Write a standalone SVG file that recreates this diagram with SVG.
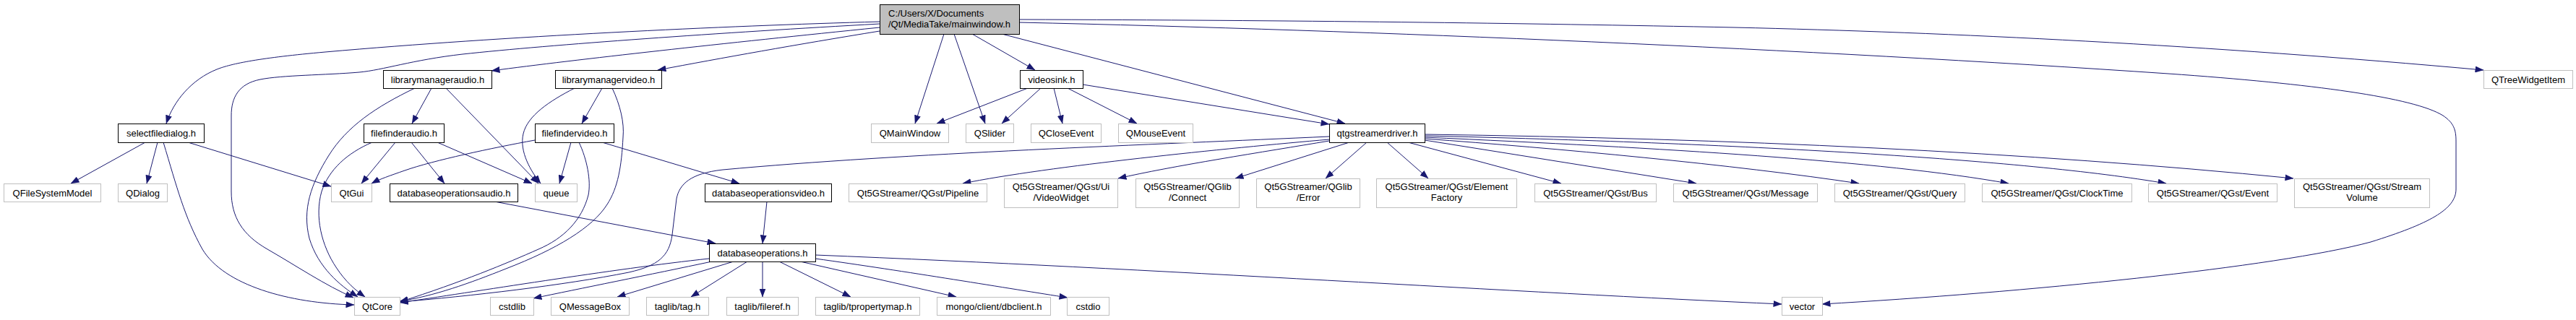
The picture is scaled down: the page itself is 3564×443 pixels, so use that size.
<svg xmlns="http://www.w3.org/2000/svg" width="3564" height="443" viewBox="0 0 3564 443">
<style>
.e{fill:none;stroke:#191970;stroke-width:1;marker-end:url(#a)}
.b{fill:#fff;stroke:#000;stroke-width:1}
.x{fill:#fff;stroke:#bfbfbf;stroke-width:1}
.m{fill:#bfbfbf;stroke:#000;stroke-width:1}
text{font-family:"Liberation Sans",Arial,sans-serif;font-size:13px;fill:#000;text-anchor:middle}
.l{text-anchor:start}
</style>
<defs>
<marker id="a" markerUnits="userSpaceOnUse" markerWidth="12" markerHeight="9" viewBox="0 0 12 9" refX="11.5" refY="4.5" orient="auto"><path d="M0,0 L12,4.5 L0,9 z" fill="#191970"/></marker>
</defs>
<rect width="3564" height="443" fill="#fff"/>
<g id="connectors">
<path class="e" d="M1217,30 C1000,36 700,50 450,72 C360,80 320,88 300,96 C265,110 240,140 230,171"/>
<path class="e" d="M1217,33 C1000,45 760,62 640,75 C570,83 530,97 497,100 C450,104 390,104 360,110 C330,116 320,135 320,160 L320,265 C320,300 335,325 370,345 C410,368 450,395 489,412"/>
<path class="e" d="M1217,38 C1000,60 800,82 680,98"/>
<path class="e" d="M1217,43 C1100,62 1000,80 910,97"/>
<path class="e" d="M1306,47 L1266,171"/>
<path class="e" d="M1320,47 L1363,171"/>
<path class="e" d="M1345,47 L1432,97"/>
<path class="e" d="M1386,47 L1861,171"/>
<path class="e" d="M1410,27 C1800,28 2100,32 2400,38 C2700,45 3050,62 3436,97"/>
<path class="e" d="M1410,31 C1900,42 2500,68 3000,102 C3200,116 3340,135 3380,160 C3395,170 3398,180 3398,195 L3398,262 C3398,290 3360,310 3280,335 C3150,370 2800,405 2521,421"/>
<path class="e" d="M201,197 L98,254"/>
<path class="e" d="M218,197 L203,254"/>
<path class="e" d="M226,197 C245,260 255,300 280,345 C310,395 400,420 490,422"/>
<path class="e" d="M260,197 L458,258"/>
<path class="e" d="M597,122 L570,171"/>
<path class="e" d="M574,122 C520,148 480,175 455,215 C430,255 418,290 428,330 C440,370 470,395 495,411"/>
<path class="e" d="M617,122 L745,254"/>
<path class="e" d="M547,197 L500,254"/>
<path class="e" d="M515,197 C480,212 455,235 445,265 C435,300 445,340 465,370 C478,390 492,402 505,411"/>
<path class="e" d="M569,197 L615,254"/>
<path class="e" d="M605,197 L736,254"/>
<path class="e" d="M833,122 L805,171"/>
<path class="e" d="M795,122 C760,140 730,160 724,185 C718,210 735,238 748,254"/>
<path class="e" d="M847,122 C858,145 864,170 862,190 C860,230 855,260 840,283 C820,315 770,345 700,372 C650,392 600,410 553,417"/>
<path class="e" d="M740,194 C680,205 600,222 560,236 C540,243 525,248 514,254"/>
<path class="e" d="M790,197 L774,254"/>
<path class="e" d="M801,197 C812,220 818,250 814,270 C805,305 780,330 745,345 C700,365 640,390 553,418"/>
<path class="e" d="M833,197 L1023,254"/>
<path class="e" d="M684,279 L990,337"/>
<path class="e" d="M1061,279 L1055,337"/>
<path class="e" d="M981,358 C850,372 650,405 553,419"/>
<path class="e" d="M985,362 C900,380 800,400 738,413"/>
<path class="e" d="M1015,362 L854,411"/>
<path class="e" d="M1034,362 L956,411"/>
<path class="e" d="M1055,362 L1055,411"/>
<path class="e" d="M1078,362 L1177,411"/>
<path class="e" d="M1107,362 L1323,411"/>
<path class="e" d="M1128,358 C1250,375 1400,400 1477,412"/>
<path class="e" d="M1128,353 C1600,372 2100,405 2465,421"/>
<path class="e" d="M1422,122 L1296,171"/>
<path class="e" d="M1440,122 L1386,171"/>
<path class="e" d="M1458,122 L1470,171"/>
<path class="e" d="M1477,122 L1573,171"/>
<path class="e" d="M1498,117 L1839,172"/>
<path class="e" d="M1839,189 C1600,200 1250,212 1000,235 C955,240 940,255 936,275 L930,325 C926,355 910,368 870,377 C780,395 650,410 553,418"/>
<path class="e" d="M1839,193 C1700,205 1450,230 1332,254"/>
<path class="e" d="M1839,195 C1750,210 1620,230 1547,247"/>
<path class="e" d="M1867,197 L1709,247"/>
<path class="e" d="M1891,197 L1834,247"/>
<path class="e" d="M1919,197 L1976,247"/>
<path class="e" d="M1948,197 L2160,254"/>
<path class="e" d="M1971,194 L2347,254"/>
<path class="e" d="M1971,192 C2150,205 2400,228 2572,254"/>
<path class="e" d="M1971,190 C2300,205 2600,222 2779,254"/>
<path class="e" d="M1971,188 C2400,198 2800,220 2997,254"/>
<path class="e" d="M1971,186 C2400,192 2800,210 3173,247"/>
</g>
<g id="mainwindow"><rect class="m" x="1217.5" y="6.5" width="193" height="41"/><text class="l" x="1229" y="23">C:/Users/X/Documents</text><text class="l" x="1229" y="37.5">/Qt/MediaTake/mainwindow.h</text></g>
<g id="selectfiledialog"><rect class="b" x="163.5" y="171.5" width="119" height="26"/><text x="223" y="188.5">selectfiledialog.h</text></g>
<g id="QFileSystemModel"><rect class="x" x="5.5" y="254.5" width="134" height="25"/><text x="72.5" y="271.5">QFileSystemModel</text></g>
<g id="QDialog"><rect class="x" x="163.5" y="254.5" width="68" height="25"/><text x="197.5" y="271.5">QDialog</text></g>
<g id="QtGui"><rect class="x" x="458.5" y="254.5" width="56" height="25"/><text x="486.5" y="271.5">QtGui</text></g>
<g id="QtCore"><rect class="x" x="490.5" y="411.5" width="63" height="25"/><text x="522" y="428.5">QtCore</text></g>
<g id="librarymanageraudio"><rect class="b" x="530.5" y="97.5" width="150" height="25"/><text x="605.5" y="114.5">librarymanageraudio.h</text></g>
<g id="filefinderaudio"><rect class="b" x="503.5" y="171.5" width="111" height="26"/><text x="559" y="188.5">filefinderaudio.h</text></g>
<g id="databaseoperationsaudio"><rect class="b" x="539.5" y="254.5" width="177" height="25"/><text x="628" y="271.5">databaseoperationsaudio.h</text></g>
<g id="librarymanagervideo"><rect class="b" x="768.5" y="97.5" width="147" height="25"/><text x="842" y="114.5">librarymanagervideo.h</text></g>
<g id="filefindervideo"><rect class="b" x="740.5" y="171.5" width="109" height="26"/><text x="795" y="188.5">filefindervideo.h</text></g>
<g id="queue"><rect class="x" x="740.5" y="254.5" width="58" height="25"/><text x="769.5" y="271.5">queue</text></g>
<g id="databaseoperationsvideo"><rect class="b" x="975.5" y="254.5" width="175" height="25"/><text x="1063" y="271.5">databaseoperationsvideo.h</text></g>
<g id="databaseoperations"><rect class="b" x="981.5" y="337.5" width="147" height="25"/><text x="1055" y="354.5">databaseoperations.h</text></g>
<g id="cstdlib"><rect class="x" x="678.5" y="411.5" width="60" height="25"/><text x="708.5" y="428.5">cstdlib</text></g>
<g id="QMessageBox"><rect class="x" x="762.5" y="411.5" width="108" height="25"/><text x="816.5" y="428.5">QMessageBox</text></g>
<g id="taglib_tag"><rect class="x" x="894.5" y="411.5" width="86" height="25"/><text x="937.5" y="428.5">taglib/tag.h</text></g>
<g id="taglib_fileref"><rect class="x" x="1005.5" y="411.5" width="99" height="25"/><text x="1055" y="428.5">taglib/fileref.h</text></g>
<g id="taglib_tpropertymap"><rect class="x" x="1128.5" y="411.5" width="144" height="25"/><text x="1200.5" y="428.5">taglib/tpropertymap.h</text></g>
<g id="mongo_dbclient"><rect class="x" x="1296.5" y="411.5" width="157" height="25"/><text x="1375" y="428.5">mongo/client/dbclient.h</text></g>
<g id="cstdio"><rect class="x" x="1476.5" y="411.5" width="58" height="25"/><text x="1505.5" y="428.5">cstdio</text></g>
<g id="vector"><rect class="x" x="2465.5" y="411.5" width="56" height="25"/><text x="2493.5" y="428.5">vector</text></g>
<g id="videosink"><rect class="b" x="1411.5" y="97.5" width="87" height="25"/><text x="1455" y="114.5">videosink.h</text></g>
<g id="QMainWindow"><rect class="x" x="1205.5" y="171.5" width="107" height="26"/><text x="1259" y="188.5">QMainWindow</text></g>
<g id="QSlider"><rect class="x" x="1336.5" y="171.5" width="66" height="26"/><text x="1369.5" y="188.5">QSlider</text></g>
<g id="QCloseEvent"><rect class="x" x="1426.5" y="171.5" width="97" height="26"/><text x="1475" y="188.5">QCloseEvent</text></g>
<g id="QMouseEvent"><rect class="x" x="1547.5" y="171.5" width="103" height="26"/><text x="1599" y="188.5">QMouseEvent</text></g>
<g id="qtgstreamerdriver"><rect class="b" x="1839.5" y="171.5" width="132" height="26"/><text x="1905.5" y="188.5">qtgstreamerdriver.h</text></g>
<g id="Pipeline"><rect class="x" x="1174.5" y="254.5" width="191" height="25"/><text x="1270" y="271.5">Qt5GStreamer/QGst/Pipeline</text></g>
<g id="VideoWidget"><rect class="x" x="1389.5" y="247.5" width="157" height="40"/><text x="1468" y="263">Qt5GStreamer/QGst/Ui</text><text x="1468" y="277.5">/VideoWidget</text></g>
<g id="Connect"><rect class="x" x="1571.5" y="247.5" width="143" height="40"/><text x="1643" y="263">Qt5GStreamer/QGlib</text><text x="1643" y="277.5">/Connect</text></g>
<g id="Error"><rect class="x" x="1738.5" y="247.5" width="143" height="40"/><text x="1810" y="263">Qt5GStreamer/QGlib</text><text x="1810" y="277.5">/Error</text></g>
<g id="ElementFactory"><rect class="x" x="1904.5" y="247.5" width="194" height="40"/><text x="2001.5" y="263">Qt5GStreamer/QGst/Element</text><text x="2001.5" y="277.5">Factory</text></g>
<g id="Bus"><rect class="x" x="2123.5" y="254.5" width="168" height="25"/><text x="2207.5" y="271.5">Qt5GStreamer/QGst/Bus</text></g>
<g id="Message"><rect class="x" x="2315.5" y="254.5" width="199" height="25"/><text x="2415" y="271.5">Qt5GStreamer/QGst/Message</text></g>
<g id="Query"><rect class="x" x="2538.5" y="254.5" width="180" height="25"/><text x="2628.5" y="271.5">Qt5GStreamer/QGst/Query</text></g>
<g id="ClockTime"><rect class="x" x="2742.5" y="254.5" width="207" height="25"/><text x="2846" y="271.5">Qt5GStreamer/QGst/ClockTime</text></g>
<g id="Event"><rect class="x" x="2972.5" y="254.5" width="178" height="25"/><text x="3061.5" y="271.5">Qt5GStreamer/QGst/Event</text></g>
<g id="StreamVolume"><rect class="x" x="3174.5" y="247.5" width="187" height="40"/><text x="3268" y="263">Qt5GStreamer/QGst/Stream</text><text x="3268" y="277.5">Volume</text></g>
<g id="QTreeWidgetItem"><rect class="x" x="3436.5" y="97.5" width="123" height="25"/><text x="3498" y="114.5">QTreeWidgetItem</text></g>
</svg>
